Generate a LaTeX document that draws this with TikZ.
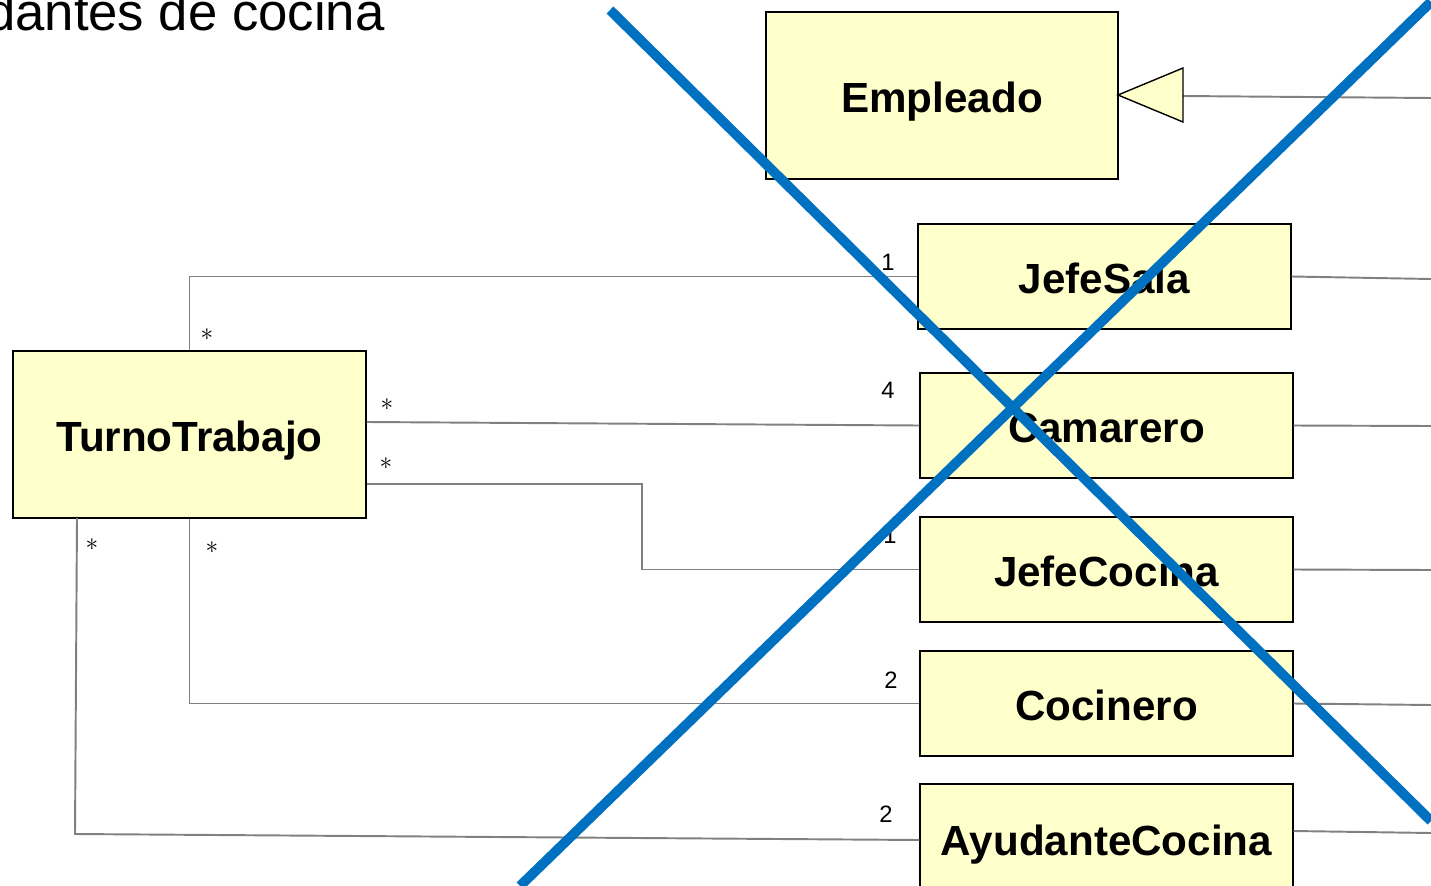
\documentclass[tikz,border=0pt]{standalone}
\usepackage{fontspec}
\setmainfont{Liberation Sans}
\usetikzlibrary{positioning}

\definecolor{classfill}{HTML}{FFFFCC}
\definecolor{linegray}{HTML}{808080}
\definecolor{crossblue}{HTML}{0070C0}

\begin{document}
\begin{tikzpicture}[x=0.02cm,y=-0.02cm,
        umlclass/.style={draw=black, line width=0.8pt, fill=classfill, rectangle,
            inner sep=0pt, text height=19.3pt, text depth=0pt,
            font=\fontsize{24}{28}\selectfont\bfseries},
        sub/.style={umlclass, minimum width=7.46cm, minimum height=2.1cm},
        assoc/.style={draw=linegray, line width=1.1pt},
        mult/.style={anchor=base, inner sep=0pt, font=\fontsize{13.5}{15}\selectfont},
        star/.style={inner sep=0pt, font=\fontsize{14}{16}\selectfont},
        cross/.style={draw=crossblue, line width=5.6pt}]
            \useasboundingbox (0,0) rectangle (1431,886);

            \node[anchor=base east, inner sep=0pt, font=\fontsize{30}{34}\selectfont] (title) at (385,30) {dantes de cocina};

            % classes
            \node[umlclass, minimum width=7.04cm, minimum height=3.34cm] (empleado) at (942,95.5) {Empleado};
            \node[sub] (jsala) at (1104.5,276.5) {JefeSala};
            \node[sub] (camarero) at (1106.5,425.5) {Camarero};
            \node[sub] (jcocina) at (1106.5,569.5) {JefeCocina};
            \node[sub] (cocinero) at (1106.5,703.5) {Cocinero};
            \node[sub, minimum height=2.2cm] (ayudante) at (1106.5,839) {AyudanteCocina};
            \node[umlclass, minimum width=7.06cm, minimum height=3.34cm] (turno) at (189.5,434.5) {TurnoTrabajo};

            % generalization
            \coordinate (tip) at (1118,95);
            \coordinate (gen) at (1183,96);
            \draw[assoc] (gen) -- (1431,98);
            \draw[line width=0.8pt, fill=classfill] (tip) -- (1183,68) -- (1183,122) -- cycle;
            \draw[assoc] (jsala.east) -- (1431,279);
            \draw[assoc] (camarero.east) -- (1431,426);
            \draw[assoc] (jcocina.east) -- (1431,570);
            \draw[assoc] (cocinero.east) -- (1431,705);
            \draw[assoc] (ayudante.east |- 0,831) -- (1431,833);

            % associations
            \draw[assoc] (turno.north) |- (jsala.west);
            \draw[assoc] (turno.east |- 0,422) -- (camarero.west);
            \draw[assoc] (turno.east |- 0,484) -- (642,484) |- (jcocina.west);
            \draw[assoc] (turno.south) |- (cocinero.west);
            \draw[assoc] (77,518) -- (75,834) -- (ayudante.west |- 0,840);

            % multiplicities
            \node[star] (m1) at (207,335) {$\ast$};
            \node[star] (m2) at (387,405) {$\ast$};
            \node[star] (m3) at (386,464) {$\ast$};
            \node[star] (m4) at (212,548) {$\ast$};
            \node[star] (m5) at (92,545) {$\ast$};
            \node[mult] (n1) at (888,270) {1};
            \node[mult] (n2) at (888,398) {4};
            \node[mult] (n3) at (890,543) {1};
            \node[mult] (n4) at (891,688) {2};
            \node[mult] (n5) at (886,822) {2};

            % crossed out
            \draw[cross] (610,10) -- (1431,821);
            \draw[cross] (1431,2) -- (520,886);
        \end{tikzpicture}
\end{document}
